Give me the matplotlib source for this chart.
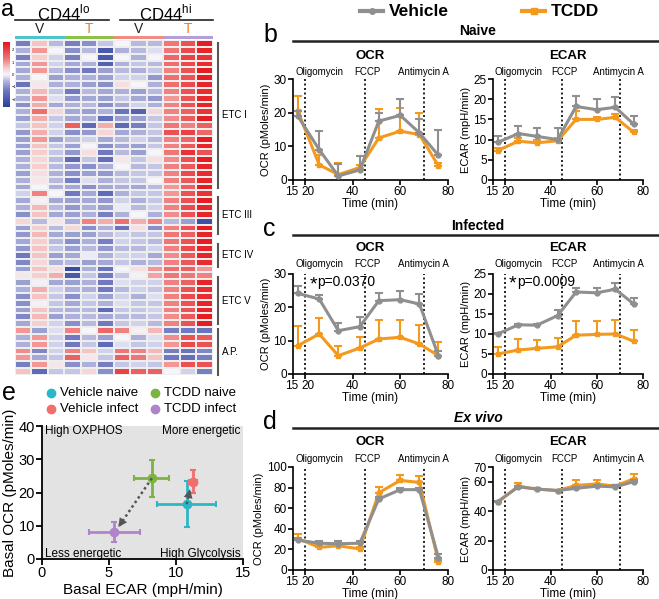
import numpy as np
import matplotlib
matplotlib.use("Agg")
import matplotlib.pyplot as plt
import matplotlib.transforms as mtransforms
from matplotlib.colors import LinearSegmentedColormap

plt.rcParams['font.family'] = ['Liberation Sans', 'DejaVu Sans']

# ---------------- data ----------------
heat_rows = [
    [-1.2, 0.6, -0.5, -1.2, -1.0, -0.4, 0.0, -0.5, -0.5, 1.3, 1.8, 2.5],
    [-0.6, 1.0, 0.0, -1.0, -0.5, -2.0, -0.6, -0.5, -0.2, 1.3, 1.9, 2.4],
    [-1.2, 0.5, -0.3, -1.2, 0.0, -2.0, 0.0, -0.6, 0.0, 1.5, 2.0, 2.2],
    [-0.7, 1.0, -0.3, -0.7, -0.6, -1.8, -0.6, -0.4, -0.5, 1.4, 1.9, 2.3],
    [-0.7, 1.0, -0.5, -1.0, -1.3, -0.8, -0.5, -0.6, -0.4, 1.2, 1.8, 2.5],
    [-0.6, 0.0, -0.8, -0.6, -0.6, -0.8, -0.3, -0.3, -0.9, 1.4, 1.8, 2.5],
    [-1.4, 0.2, -0.6, -0.6, -0.8, -1.0, 0.3, 0.0, -0.6, 1.4, 1.9, 2.4],
    [-0.6, 0.7, -0.4, -1.3, -0.5, -0.7, -0.6, -0.8, -0.5, 1.2, 1.8, 2.3],
    [-0.6, 1.0, -0.2, -0.9, -0.7, -0.8, -0.4, -0.7, -0.9, 1.0, 1.8, 2.4],
    [-1.0, 0.8, -0.7, -0.6, -0.5, -1.0, -0.7, -0.3, -0.6, 1.2, 1.8, 2.4],
    [-0.6, 1.4, 0.4, -0.7, -0.8, -0.6, -1.4, -1.8, 0.4, 1.2, 1.6, 2.2],
    [-0.8, 0.8, -0.4, -0.7, -0.6, -1.5, -0.8, -0.8, -0.4, 1.1, 1.7, 2.5],
    [-0.4, 0.6, -0.3, 1.6, -1.6, 0.8, -1.6, -1.2, -0.4, 1.3, 1.2, 1.6],
    [-0.9, 0.8, -0.3, -1.0, -0.9, 0.4, -0.7, -0.6, -0.4, 1.8, 2.0, 1.5],
    [-0.8, 1.0, -0.8, -0.5, -0.3, -0.7, -0.5, -0.3, -0.5, 1.2, 1.5, 2.5],
    [-0.8, 0.6, -0.4, -0.8, 0.0, -1.0, -0.7, -0.8, -0.4, 1.2, 1.7, 2.4],
    [-0.8, 0.5, -0.4, -0.9, 0.3, -1.3, -0.5, -0.8, 0.0, 1.3, 2.2, 1.8],
    [-0.6, 0.4, -0.5, -1.6, -0.4, -1.5, 0.2, -0.4, 0.3, 1.1, 1.8, 2.5],
    [-0.6, 0.5, -0.5, -0.9, -1.0, -0.6, 0.0, -0.5, -0.4, 1.2, 1.7, 2.4],
    [-0.8, 0.3, -0.6, -1.0, -0.8, -0.9, -0.5, -0.4, -0.4, 1.2, 1.9, 2.3],
    [-0.6, 0.2, -0.5, -1.2, -0.2, -0.6, -0.4, -0.4, 0.0, 1.2, 1.7, 2.4],
    [-0.7, 0.0, -0.6, -0.7, -1.0, -0.7, -0.6, -0.7, -0.5, 1.0, 1.6, 2.5],
    [-0.3, 1.2, 0.0, -1.3, -0.7, -1.6, -0.6, -0.4, -0.4, 1.0, 1.8, 2.2],
    [-0.7, 0.1, -0.7, -0.8, -0.7, -0.9, -0.3, -0.6, -0.4, 1.2, 1.8, 2.5],
    [-0.6, 0.7, -0.5, -0.9, -0.6, -0.8, -0.1, -0.5, -0.3, 1.2, 1.9, 2.4],
    [-1.0, 0.6, -0.7, -0.8, -0.6, -1.2, -0.6, 0.0, -0.6, 1.1, 1.8, 2.4],
    [0.4, -0.5, 0.2, -0.6, 1.2, 0.8, 1.4, 0.8, 1.2, -0.5, -0.8, -2.2],
    [-0.8, 0.5, -0.5, 0.4, -1.0, -0.6, -1.4, 0.3, -1.0, 1.2, 1.8, 2.5],
    [-0.9, 0.7, -0.7, -0.8, -0.8, -0.5, -0.3, -0.4, -0.4, 1.3, 1.6, 2.4],
    [-0.7, 0.5, -0.5, -1.0, -0.6, -1.2, -0.3, -0.4, -0.5, 1.3, 1.8, 2.5],
    [-0.9, 0.6, -0.4, -0.8, -0.5, -0.9, -0.5, -0.5, -0.3, 1.2, 1.9, 2.4],
    [-1.3, 0.6, -0.8, -0.7, -0.1, -0.6, -0.3, -0.3, -0.7, 1.1, 1.7, 2.4],
    [-1.1, 0.4, -0.6, -0.5, -0.8, -0.7, -0.4, -0.6, -0.5, 1.2, 1.7, 2.3],
    [-0.8, 0.6, 0.3, -2.3, -0.6, -1.4, 0.0, 0.3, 1.0, 1.4, 1.6, 1.0],
    [0.2, 0.5, 0.8, -2.0, -0.4, -1.3, -0.4, 0.1, 0.9, 1.3, 1.3, 1.2],
    [-0.8, 0.1, -0.7, -0.8, -0.6, -1.3, -0.2, -0.3, -0.3, 1.2, 1.6, 2.4],
    [-0.6, 0.8, -0.3, -0.6, -0.6, -1.3, -0.5, -0.3, -0.4, 1.2, 1.8, 2.3],
    [-1.0, 0.6, -0.4, -1.0, -0.3, -0.8, -0.3, -0.6, -0.2, 1.2, 1.9, 2.3],
    [-1.0, 0.1, -0.4, -0.7, -0.4, -0.6, -0.2, -0.4, -0.4, 1.2, 1.8, 2.4],
    [-0.8, 0.6, -0.5, -0.6, -0.5, -1.6, -0.4, -0.4, -0.3, 1.2, 1.8, 2.4],
    [-1.1, 0.7, -0.8, -0.6, -0.5, -0.7, -0.5, -0.5, -0.4, 1.1, 1.7, 2.5],
    [-0.7, 0.5, -0.3, -1.0, -0.5, -1.3, -0.4, -0.3, -0.5, 1.2, 1.8, 2.5],
    [1.0, -0.8, -0.2, 1.2, 0.0, 1.5, 1.2, 0.1, 0.7, -1.2, -1.3, -1.4],
    [-0.6, 1.0, -0.3, -1.3, -0.5, -0.8, 0.0, -0.6, -0.2, 1.1, 1.8, 1.7],
    [-0.6, 1.0, -0.3, -1.3, -0.4, -1.6, -0.2, -0.4, -0.3, 1.0, 1.9, 1.8],
    [1.1, -1.1, -0.3, 1.2, 0.6, -0.3, 1.3, 1.2, 0.7, -1.2, -1.4, -1.1],
    [1.0, -0.7, -0.4, 1.6, 0.2, -0.4, 1.6, 1.3, 0.6, -1.3, -1.5, -1.2],
    [-1.2, 1.0, 0.2, -1.0, -0.6, -1.2, -0.4, -0.3, -0.4, 1.0, 1.8, 1.8],
    [0.6, -1.6, -0.4, -0.4, 0.4, -1.0, 2.0, 1.6, 1.6, 0.0, -0.3, -1.2],
]
group_names = ['ETC I', 'ETC III', 'ETC IV', 'ETC V', 'A.P.']
group_rows = [(0.4, 21.6), (22.9, 28.4), (29.8, 33.2), (34.7, 41.6), (42.3, 49.0)]
col_groups = ['V', 'T', 'V', 'T']
col_group_colors = ['#4cc5cd', '#8bc34a', '#f28b82', '#b39ddb']

time = [17, 26, 34, 43, 51, 60, 68, 76]
drug_times = [20, 45, 70]
drug_names = ['Oligomycin', 'FCCP', 'Antimycin A']
drug_label_x = [26, 46, 69.5]

# naive
b_ocr_veh = [19.0, 9.0, 1.2, 3.0, 17.5, 19.2, 14.0, 7.3]
b_ocr_veh_err = [1.5, 5.5, 3.6, 4.0, 2.5, 4.8, 4.0, 7.5]
b_ocr_tcdd = [20.5, 4.5, 1.6, 3.7, 12.5, 14.5, 13.5, 4.2]
b_ocr_tcdd_err = [4.5, 3.0, 3.4, 0.8, 8.5, 7.0, 6.5, 0.8]
b_ecar_veh = [9.3, 11.5, 10.8, 10.0, 18.2, 17.4, 18.0, 13.8]
b_ecar_veh_err = [1.7, 1.8, 2.0, 2.8, 2.5, 2.6, 2.5, 2.0]
b_ecar_tcdd = [7.3, 9.6, 9.2, 9.7, 15.0, 15.0, 15.5, 11.8]
b_ecar_tcdd_err = [0.7, 0.9, 0.8, 0.6, 2.0, 0.6, 0.8, 0.7]
# infected
c_ocr_veh = [24.2, 22.5, 13.0, 14.2, 22.0, 22.3, 21.0, 5.5]
c_ocr_veh_err = [2.3, 1.3, 2.2, 3.0, 2.2, 2.7, 3.0, 1.5]
c_ocr_tcdd = [8.5, 12.0, 5.5, 7.8, 10.5, 11.0, 9.0, 5.5]
c_ocr_tcdd_err = [6.0, 4.8, 3.0, 3.2, 5.7, 5.2, 5.8, 4.2]
c_ecar_veh = [10.0, 12.3, 12.2, 14.6, 20.5, 20.3, 21.2, 17.5]
c_ecar_veh_err = [0.3, 0.2, 0.2, 1.4, 1.0, 1.2, 1.5, 1.4]
c_ecar_tcdd = [5.0, 6.0, 6.4, 6.8, 9.7, 9.9, 10.0, 8.2]
c_ecar_tcdd_err = [1.8, 2.7, 2.1, 2.2, 3.5, 3.4, 3.6, 2.8]
# ex vivo
d_ocr_veh = [29.0, 26.0, 25.5, 26.0, 69.0, 78.0, 78.0, 12.0]
d_ocr_veh_err = [2.0, 2.0, 2.5, 2.5, 2.0, 1.5, 2.0, 4.0]
d_ocr_tcdd = [30.5, 22.0, 23.5, 20.5, 75.0, 87.0, 85.0, 8.0]
d_ocr_tcdd_err = [4.5, 2.0, 1.5, 1.5, 6.0, 5.0, 6.0, 2.0]
d_ecar_veh = [46.5, 56.5, 55.0, 54.0, 55.5, 57.0, 56.5, 60.0]
d_ecar_veh_err = [0.5, 0.5, 0.5, 0.5, 1.0, 1.0, 1.0, 1.0]
d_ecar_tcdd = [46.0, 57.0, 55.0, 54.0, 57.5, 58.5, 57.0, 62.0]
d_ecar_tcdd_err = [1.0, 2.0, 1.0, 0.5, 3.5, 2.5, 1.0, 3.0]

# panel e
e_groups = ['Vehicle naive', 'TCDD naive', 'Vehicle infect', 'TCDD infect']
e_colors = ['#2bb8c6', '#7cb342', '#ef6f6c', '#b084c9']
e_ecar = [10.8, 8.2, 11.3, 5.4]
e_ecar_err = [2.2, 1.3, 0.3, 1.9]
e_ocr = [16.5, 24.3, 23.3, 8.1]
e_ocr_err = [7.0, 5.6, 3.5, 3.1]

GRAY = '#8f8f8f'
ORANGE = '#f39a1e'

W, H = 659, 599
fig = plt.figure(figsize=(W / 100, H / 100), dpi=100)

def px_axes(l, t, r, b):
    return fig.add_axes([l / W, 1 - b / H, (r - l) / W, (b - t) / H])

# overlay axes in pixel coordinates for decorations
ov = fig.add_axes([0, 0, 1, 1])
ov.set_xlim(0, W)
ov.set_ylim(H, 0)
ov.axis('off')
ov.patch.set_visible(False)

# ---------------- panel a: heatmap ----------------
cmap = LinearSegmentedColormap.from_list('bwr2', [
    (0.0, '#2a3f9e'), (0.25, '#6f78c0'), (0.40, '#b4b7de'), (0.5, '#f6f6fb'),
    (0.6, '#f7cccc'), (0.75, '#f07676'), (1.0, '#e5161b')])
data = np.array(heat_rows)
axh = px_axes(15, 40, 213, 375)
axh.pcolormesh(data, cmap=cmap, vmin=-2.6, vmax=2.6, edgecolors='#eeeeee', linewidth=0.3)
axh.set_xlim(0, 12)
axh.set_ylim(data.shape[0], 0)
axh.axis('off')
for (r0, r1), name in zip(group_rows, group_names):
    axh.plot([12.3, 12.3], [r0, r1], color='#555555', lw=1.5, clip_on=False)
    axh.text(12.55, (r0 + r1) / 2, name, fontsize=7, va='center', ha='left')

# colored strip & labels
for i, (g, c) in enumerate(zip(col_groups, col_group_colors)):
    x0 = 15 + i * 49.5
    ov.add_patch(plt.Rectangle((x0, 35.5), 49.5, 3.5, color=c, lw=0))
    ov.text(x0 + 24.75, 29, g, fontsize=10, ha='center', va='center',
            color=('#ef7d22' if g == 'T' else '#222222'))
ov.plot([15, 109], [20, 20], color='#222222', lw=1.2)
ov.plot([120, 213], [20, 20], color='#222222', lw=1.2)
ov.text(64, 13, r'CD44$^{\mathregular{lo}}$', fontsize=12, ha='center', va='center')
ov.text(165, 13, r'CD44$^{\mathregular{hi}}$', fontsize=12, ha='center', va='center')
ov.text(1, 16, 'a', fontsize=17, ha='left', va='baseline')

# colorbar
axc = px_axes(3, 42, 10, 107)
grad = np.linspace(2.6, -2.6, 100).reshape(-1, 1)
axc.imshow(grad, aspect='auto', cmap=cmap, vmin=-2.6, vmax=2.6, extent=[0, 1, -2.6, 2.6])
axc.set_xticks([])
axc.set_yticks([-2, -1, 0, 1, 2])
axc.yaxis.tick_right()
axc.tick_params(axis='y', length=0, labelsize=3, pad=1)
for s in axc.spines.values():
    s.set_visible(False)

# ---------------- top legend ----------------
ov.plot([360, 383], [11, 11], color=GRAY, lw=3)
ov.plot([371.5], [11], color=GRAY, marker='o', ms=4)
ov.text(389, 11, 'Vehicle', fontsize=12.5, fontweight='bold', va='center')
ov.plot([522, 545], [11, 11], color=ORANGE, lw=3)
ov.plot([533.5], [11], color=ORANGE, marker='s', ms=4)
ov.text(551, 11, 'TCDD', fontsize=12.5, fontweight='bold', va='center')

# ---------------- panels b, c, d ----------------
def shift_tick_labels(ax):
    labels = ax.get_xticklabels()
    labels[0].set_transform(labels[0].get_transform() +
                            mtransforms.ScaledTranslation(-1.5 / 100, 0, fig.dpi_scale_trans))
    labels[1].set_transform(labels[1].get_transform() +
                            mtransforms.ScaledTranslation(3 / 100, 0, fig.dpi_scale_trans))

def line_panel(l, t, r, b, veh, veh_err, tc, tc_err, ylim, yticks, ylabel, title, title_y, drug_y):
    ax = px_axes(l, t, r, b)
    zeros = [0] * len(time)
    ax.errorbar(time, tc, yerr=[zeros, tc_err], color=ORANGE, lw=2.2, marker='s', ms=3.5,
                capsize=3, elinewidth=1.5, capthick=1.5, zorder=3)
    ax.errorbar(time, veh, yerr=[zeros, veh_err], color=GRAY, lw=2.2, marker='o', ms=3.5,
                capsize=3, elinewidth=1.5, capthick=1.5, zorder=4)
    for dt in drug_times:
        ax.axvline(dt, color='black', ls=(0, (1.2, 1.5)), lw=1.2, zorder=1)
    ax.set_xlim(15, 80)
    ax.set_xticks([15, 20, 40, 60, 80])
    ax.set_ylim(*ylim)
    ax.set_yticks(yticks)
    ax.spines['top'].set_visible(False)
    ax.spines['right'].set_visible(False)
    for s in ('left', 'bottom'):
        ax.spines[s].set_linewidth(1.2)
    ax.tick_params(labelsize=8.5, width=1.2, length=3.5, pad=1)
    ax.set_xlabel('Time (min)', fontsize=8.5, labelpad=0)
    ax.set_ylabel(ylabel, fontsize=8, labelpad=2)
    shift_tick_labels(ax)
    for name, xx in zip(drug_names, drug_label_x):
        ov.text(l + (xx - 15) / 65 * (r - l), drug_y, name, fontsize=7, ha='center', va='center')
    ov.text((l + r) / 2, title_y, title, fontsize=9.5, fontweight='bold', ha='center', va='center')
    return ax

OCRL, OCRR = 293, 448
ECL, ECR = 493, 643

def section(title, ty, ly, letter, italic=False):
    ov.text(478, ty, title, fontsize=10, fontweight='bold', ha='center', va='center',
            style=('italic' if italic else 'normal'))
    ov.plot([293, 659], [ly, ly], color='#222222', lw=1.8)
    ov.text(263, ly + 1, letter, fontsize=18, ha='left', va='baseline')

section('Naive', 31, 41, 'b')
line_panel(OCRL, 79, OCRR, 180, b_ocr_veh, b_ocr_veh_err, b_ocr_tcdd, b_ocr_tcdd_err,
           (0, 30), [0, 10, 20, 30], 'OCR (pMoles/min)', 'OCR', 56, 72)
line_panel(ECL, 79, ECR, 180, b_ecar_veh, b_ecar_veh_err, b_ecar_tcdd, b_ecar_tcdd_err,
           (0, 25), [0, 5, 10, 15, 20, 25], 'ECAR (mpH/min)', 'ECAR', 56, 72)

section('Infected', 226, 235, 'c')
axc1 = line_panel(OCRL, 274, OCRR, 374, c_ocr_veh, c_ocr_veh_err, c_ocr_tcdd, c_ocr_tcdd_err,
                  (0, 30), [0, 10, 20, 30], 'OCR (pMoles/min)', 'OCR', 248, 264)
axc2 = line_panel(ECL, 274, ECR, 374, c_ecar_veh, c_ecar_veh_err, c_ecar_tcdd, c_ecar_tcdd_err,
                  (0, 25), [0, 5, 10, 15, 20, 25], 'ECAR (mpH/min)', 'ECAR', 248, 264)
axc1.text(22.0, 26.8, '*', fontsize=14, ha='left', va='center')
axc1.text(25.2, 27.5, 'p=0.0370', fontsize=10, ha='left', va='center')
axc2.text(22.0, 22.4, '*', fontsize=14, ha='left', va='center')
axc2.text(25.4, 23.0, 'p=0.0009', fontsize=10, ha='left', va='center')

section('Ex vivo', 418, 428, 'd', italic=True)
line_panel(OCRL, 467, OCRR, 570, d_ocr_veh, d_ocr_veh_err, d_ocr_tcdd, d_ocr_tcdd_err,
           (0, 100), [0, 20, 40, 60, 80, 100], 'OCR (pMoles/min)', 'OCR', 442, 459)
line_panel(ECL, 467, ECR, 570, d_ecar_veh, d_ecar_veh_err, d_ecar_tcdd, d_ecar_tcdd_err,
           (0, 70), [0, 20, 40, 60, 70], 'ECAR (mpH/min)', 'ECAR', 442, 459)

# ---------------- panel e ----------------
axe = px_axes(42, 426, 243, 559)
axe.set_facecolor('#e3e3e3')
for xv, xe, yv, ye, c in zip(e_ecar, e_ecar_err, e_ocr, e_ocr_err, e_colors):
    axe.errorbar(xv, yv, xerr=xe, yerr=ye, color=c, marker='o', ms=6, lw=2,
                 capsize=2.5, capthick=1.5, zorder=3)

def dotted_arrow(x0, y0, x1, y1):
    axe.plot([x0, x1], [y0, y1], color='#555555', ls=(0, (1, 1.2)), lw=1.8, zorder=4)
    dx, dy = x1 - x0, y1 - y0
    axe.annotate('', xy=(x1, y1), xytext=(x1 - dx * 0.05, y1 - dy * 0.05),
                 arrowprops=dict(arrowstyle='-|>', color='#555555', lw=0, mutation_scale=16), zorder=5)

dotted_arrow(e_ecar[1], e_ocr[1], 5.7, 9.6)
dotted_arrow(e_ecar[0], e_ocr[0], 11.05, 21.0)
axe.set_xlim(0, 15)
axe.set_ylim(0, 40)
axe.set_xticks([0, 5, 10, 15])
axe.set_yticks([0, 10, 20, 30, 40])
axe.spines['top'].set_visible(False)
axe.spines['right'].set_visible(False)
for s in ('left', 'bottom'):
    axe.spines[s].set_linewidth(1.3)
axe.tick_params(labelsize=10.5, width=1.3, length=4, pad=1)
axe.set_xlabel('Basal ECAR (mpH/min)', fontsize=11, labelpad=2)
axe.set_ylabel('Basal OCR (pMoles/min)', fontsize=11, labelpad=1)
axe.text(0.2, 38.5, 'High OXPHOS', fontsize=8.5, va='center')
axe.text(14.8, 38.5, 'More energetic', fontsize=8.5, va='center', ha='right')
axe.text(0.2, 1.5, 'Less energetic', fontsize=8.5, va='center')
axe.text(14.8, 1.5, 'High Glycolysis', fontsize=8.5, va='center', ha='right')

leg_pos = [(51, 393), (155, 393), (51, 409), (155, 409)]
for (lx, ly), name, c in zip(leg_pos, e_groups, e_colors):
    ov.plot([lx], [ly], marker='o', color=c, ms=6)
    ov.text(lx + 9, ly, name, fontsize=9.5, va='center')
ov.text(2, 400, 'e', fontsize=18, ha='left', va='baseline')

fig.savefig('out.png', dpi=100)
